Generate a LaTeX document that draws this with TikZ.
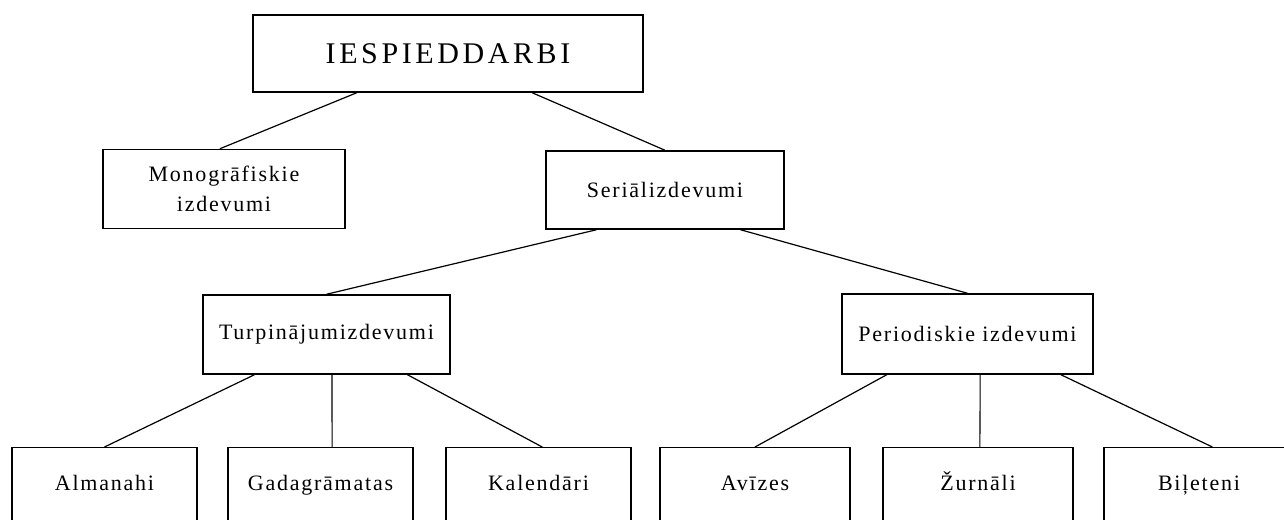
\documentclass[tikz,border=0pt]{standalone}
\usepackage{fontspec}
\setmainfont{Liberation Serif}
\newfontfamily\lblfont[LetterSpace=8]{Liberation Serif}
\newfontfamily\ttlfont[LetterSpace=12]{Liberation Serif}
\usetikzlibrary{calc}
\begin{document}
\begin{tikzpicture}[x=0.75pt,y=-0.75pt,
  box/.style={draw, line width=1.1pt, rectangle, inner sep=0pt, align=center,
    font=\lblfont\fontsize{16.5pt}{22pt}\selectfont},
  bbox/.style={box, anchor=north, minimum width=#1, text height=32pt, text depth=80pt},
  conn/.style={line width=0.9pt},
  vconn/.style={line width=0.8pt}]
\useasboundingbox (0,0) rectangle (1284,520);
\clip (0,0) rectangle (1284,520);
\fill[white] (0,0) rectangle (1284,520);

\node[box, minimum width=292.5pt, minimum height=57.75pt,
  font=\ttlfont\fontsize{22.5pt}{27pt}\selectfont] (top) at (448,53.5) {IESPIEDDARBI};
\node[box, minimum width=181.5pt, minimum height=59.25pt] (mono) at (224,189) {Monogrāfiskie\\izdevumi};
\node[box, minimum width=178.5pt, minimum height=58.5pt] (seri) at (665,190) {Seriālizdevumi};
\node[box, minimum width=185.25pt, minimum height=59.25pt] (turp) at (326.5,334.5) {Turpinājumizdevumi};
\node[box, minimum width=188.25pt, minimum height=60pt] (peri) at (967.5,334) {Periodiskie izdevumi};

\node[bbox=138.75pt] (alm) at (104.5,447) {Almanahi};
\node[bbox=138.75pt] (gad) at (320.5,447) {Gadagrāmatas};
\node[bbox=138.75pt] (kal) at (538.5,447) {Kalendāri};
\node[bbox=142.5pt] (avi) at (755,447) {Avīzes};
\node[bbox=142.5pt] (zur) at (978,447) {Žurnāli};
\node[bbox=142.5pt] (bil) at (1199,447) {Biļeteni};

\draw[conn] ($(top.south west)!0.267!(top.south east)$) -- ($(mono.north west)!0.483!(mono.north east)$);
\draw[conn] ($(top.south west)!0.715!(top.south east)$) -- (seri.north);
\draw[conn] ($(seri.south west)!0.214!(seri.south east)$) -- (turp.north);
\draw[conn] ($(seri.south west)!0.815!(seri.south east)$) -- (peri.north);

\draw[conn] ($(turp.south west)!0.21!(turp.south east)$) -- (alm.north);
\draw[vconn] ($(turp.south west)!0.522!(turp.south east)$) -- ($(gad.north west)!0.562!(gad.north east)$);
\draw[conn] ($(turp.south west)!0.826!(turp.south east)$) -- ($(kal.north west)!0.52!(kal.north east)$);

\draw[conn] ($(peri.south west)!0.18!(peri.south east)$) -- (avi.north);
\draw[vconn] ($(peri.south west)!0.55!(peri.south east)$) -- ($(zur.north west)!0.51!(zur.north east)$);
\draw[conn] ($(peri.south west)!0.87!(peri.south east)$) -- ($(bil.north west)!0.57!(bil.north east)$);
\end{tikzpicture}
\end{document}
